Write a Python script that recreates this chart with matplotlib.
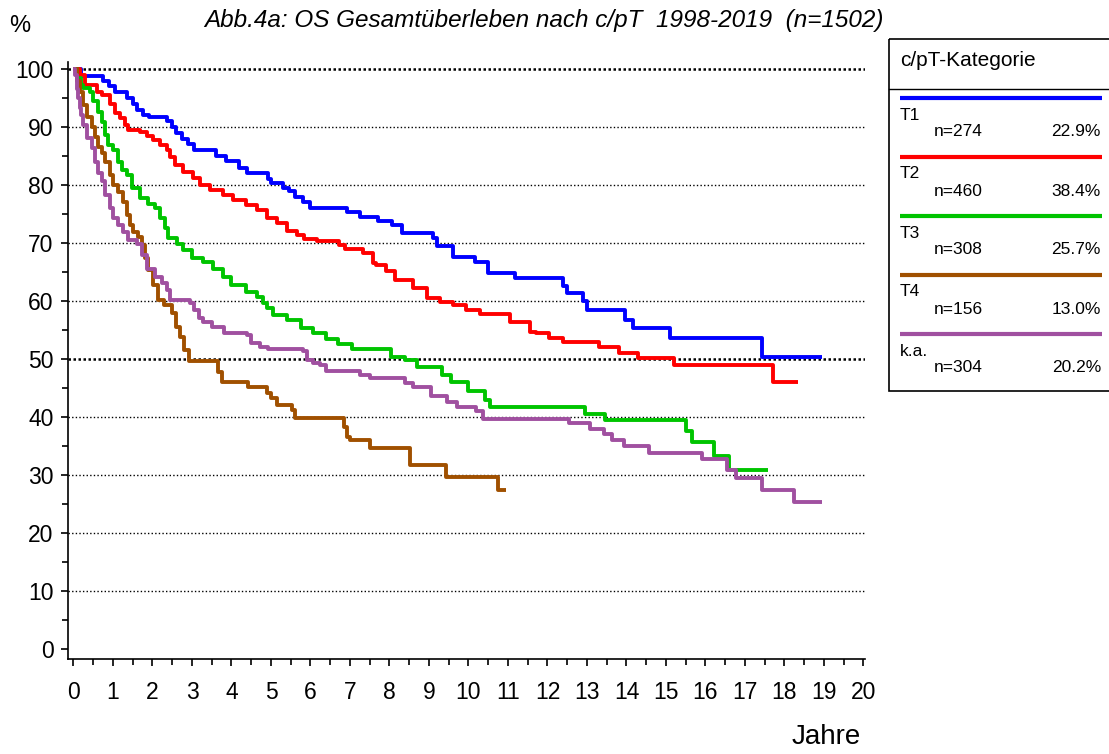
import matplotlib
matplotlib.use("Agg")
import matplotlib.pyplot as plt
from matplotlib.patches import Rectangle
from matplotlib.ticker import MultipleLocator

plt.rcParams['font.family'] = ['Liberation Sans', 'DejaVu Sans']

# ---------------- data ----------------
categories = ["T1", "T2", "T3", "T4", "k.a."]
n_values = [274, 460, 308, 156, 304]
pct_values = ["22.9%", "38.4%", "25.7%", "13.0%", "20.2%"]
colors = ["#0000FF", "#FF0000", "#00C400", "#A05000", "#A050A0"]

t1_time = [0, 0.19, 0.75, 0.9, 1.05, 1.35, 1.5, 1.6, 1.75, 1.9, 2.36, 2.5, 2.6, 2.75, 2.9, 3.05,
           3.62, 3.86, 4.2, 4.4, 4.93, 5.0, 5.3, 5.45, 5.6, 5.8, 5.99, 6.92, 7.25, 7.71, 8.06, 8.31,
           9.11, 9.2, 9.61, 10.16, 10.5, 11.18, 12.4, 12.5, 12.9, 13.0, 13.96, 14.17, 15.1, 17.42, 18.94]
t1_surv = [100, 98.8, 98.0, 97.0, 96.0, 95.0, 94.0, 93.0, 92.0, 91.7, 91.0, 90.0, 89.0, 88.0, 87.0, 86.0,
           85.0, 84.2, 83.0, 82.0, 81.0, 80.3, 79.5, 79.0, 78.0, 77.0, 76.0, 75.4, 74.5, 73.8, 73.1, 71.7,
           70.8, 69.5, 67.6, 66.8, 64.9, 63.9, 62.6, 61.4, 60.0, 58.4, 56.8, 55.3, 53.6, 50.4, 50.4]

t2_time = [0, 0.16, 0.29, 0.59, 0.71, 0.92, 1.05, 1.18, 1.30, 1.39, 1.68, 1.85, 2.02, 2.19, 2.36, 2.44,
           2.57, 2.78, 3.03, 3.2, 3.46, 3.79, 4.05, 4.38, 4.64, 4.89, 5.14, 5.4, 5.65, 5.83, 6.17, 6.72,
           6.87, 7.33, 7.59, 7.67, 7.92, 8.13, 8.6, 8.94, 9.28, 9.61, 9.95, 10.28, 11.04, 11.55, 11.72,
           12.05, 12.4, 13.3, 13.8, 14.3, 15.2, 17.7, 18.34]
t2_surv = [100, 99.0, 97.2, 96.1, 95.5, 94.0, 92.4, 91.5, 90.3, 89.5, 89.1, 88.5, 87.8, 86.9, 86.0, 84.9,
           83.4, 82.3, 81.2, 80.0, 79.1, 78.3, 77.4, 76.6, 75.7, 74.3, 73.5, 72.1, 71.4, 70.7, 70.3, 69.7,
           68.9, 68.3, 66.5, 66.2, 65.1, 63.7, 62.2, 60.5, 59.9, 59.3, 58.4, 57.8, 56.4, 54.7, 54.4,
           53.7, 53.0, 52.1, 51.1, 50.2, 49.0, 46.0, 46.0]

t3_time = [0, 0.1, 0.18, 0.25, 0.42, 0.5, 0.63, 0.71, 0.8, 0.88, 1.01, 1.13, 1.22, 1.35, 1.47, 1.68,
           1.89, 2.06, 2.19, 2.32, 2.4, 2.61, 2.78, 2.99, 3.29, 3.54, 3.79, 4.0, 4.38, 4.64, 4.81, 4.9,
           5.04, 5.4, 5.75, 6.07, 6.4, 6.7, 7.04, 8.05, 8.4, 8.69, 9.32, 9.56, 10.0, 10.43, 10.55,
           12.95, 13.45, 15.52, 15.67, 16.22, 16.6, 17.59]
t3_surv = [100, 98.5, 97.2, 96.7, 96.1, 94.4, 92.6, 90.9, 88.6, 86.9, 86.0, 84.0, 82.6, 81.7, 79.4, 77.7,
           76.8, 76.0, 74.3, 72.5, 70.8, 69.9, 68.8, 67.4, 66.8, 65.6, 64.2, 62.8, 61.5, 60.7, 59.7, 58.8,
           57.6, 56.7, 55.3, 54.5, 53.5, 52.6, 51.8, 50.3, 49.8, 48.7, 47.2, 46.0, 44.4, 42.9, 41.8,
           40.6, 39.4, 37.5, 35.7, 33.3, 30.9, 30.9]

t4_time = [0, 0.08, 0.16, 0.25, 0.33, 0.46, 0.54, 0.63, 0.71, 0.8, 0.92, 1.01, 1.13, 1.26, 1.35, 1.43,
           1.51, 1.64, 1.73, 1.81, 1.89, 2.02, 2.15, 2.3, 2.5, 2.6, 2.7, 2.8, 2.92, 3.66, 3.75, 4.43,
           4.9, 5.0, 5.16, 5.54, 5.62, 6.84, 6.92, 7.0, 7.5, 8.53, 9.42, 10.75, 10.96]
t4_surv = [100, 98.0, 96.1, 93.8, 91.8, 90.0, 88.3, 86.6, 85.5, 84.0, 81.7, 80.0, 78.8, 77.1, 74.8, 73.1,
           71.9, 71.1, 69.7, 67.4, 65.3, 62.8, 60.2, 59.3, 57.9, 55.5, 53.8, 51.6, 49.6, 47.8, 46.1, 45.1,
           44.1, 43.3, 42.1, 41.2, 39.9, 38.3, 36.6, 36.0, 34.6, 31.7, 29.6, 27.4, 27.4]

ka_time = [0, 0.04, 0.08, 0.12, 0.16, 0.2, 0.25, 0.33, 0.46, 0.54, 0.63, 0.71, 0.8, 0.92, 1.01, 1.13,
           1.26, 1.39, 1.6, 1.73, 1.85, 2.06, 2.23, 2.36, 2.44, 2.95, 3.05, 3.18, 3.29, 3.5, 3.8, 4.4,
           4.5, 4.72, 4.93, 5.82, 5.9, 6.07, 6.25, 6.4, 7.25, 7.5, 8.4, 8.6, 9.05, 9.45, 9.7, 10.2,
           10.37, 12.54, 13.09, 13.43, 13.64, 13.94, 14.57, 15.92, 16.55, 16.77, 17.44, 18.24, 18.96]
ka_surv = [100, 99.0, 96.6, 95.0, 93.3, 92.0, 90.3, 88.1, 86.4, 84.0, 82.0, 80.6, 78.3, 76.0, 74.3, 73.1,
           71.9, 70.5, 69.9, 67.9, 65.6, 64.2, 63.1, 61.9, 60.2, 59.7, 58.5, 57.1, 56.4, 55.5, 54.5, 54.1,
           52.8, 52.1, 51.7, 51.3, 49.8, 49.3, 49.0, 48.0, 47.2, 46.7, 45.9, 45.1, 43.6, 42.6, 41.8, 41.0,
           39.7, 38.9, 37.9, 37.1, 36.0, 35.0, 33.8, 32.7, 30.9, 29.4, 27.4, 25.3, 25.3]

series_time = [t1_time, t2_time, t3_time, t4_time, ka_time]
series_surv = [t1_surv, t2_surv, t3_surv, t4_surv, ka_surv]

title = "Abb.4a: OS Gesamtüberleben nach c/pT  1998-2019  (n=1502)"
x_ticks = list(range(0, 21))
y_ticks = list(range(0, 101, 10))

# ---------------- figure ----------------
W, H = 1109, 754
fig = plt.figure(figsize=(W / 100, H / 100), dpi=100)
ax = fig.add_axes([68 / W, 1 - 659 / H, (865 - 68) / W, (659 - 62) / H])
ax.set_xlim(-0.139, 20.04)
ax.set_ylim(-1.72, 101.2)

for y in y_ticks[1:]:
    if y in (50, 100):
        ax.axhline(y, color='black', lw=1.8, ls=(0, (1.0, 1.0)), zorder=1)
    else:
        ax.axhline(y, color='black', lw=1.0, ls=(0, (1.0, 1.6)), zorder=1)

for tt, ss, c in zip(series_time, series_surv, colors):
    ax.step(tt, ss, where='post', color=c, lw=2.8, zorder=3, solid_capstyle='butt')

for s in ['top', 'right']:
    ax.spines[s].set_visible(False)
for s in ['left', 'bottom']:
    ax.spines[s].set_linewidth(1.2)

ax.set_xticks(x_ticks)
ax.set_yticks(y_ticks)
ax.xaxis.set_minor_locator(MultipleLocator(0.5))
ax.yaxis.set_minor_locator(MultipleLocator(5))
ax.tick_params(axis='both', which='major', length=5, width=1.2, labelsize=16.5)
ax.tick_params(axis='both', which='minor', length=4, width=1.2)
ax.tick_params(axis='x', which='major', pad=11)
ax.tick_params(axis='y', which='major', pad=5.5)

# overlay in pixel coords for text and legend box
ov = fig.add_axes([0, 0, 1, 1], zorder=5)
ov.set_xlim(0, W)
ov.set_ylim(H, 0)
ov.axis('off')

ov.text(544, 20, title, ha='center', va='center', fontsize=17.5, style='italic')
ov.text(20, 26, "%", ha='center', va='center', fontsize=17)
ov.text(826, 737, "Jahre", ha='center', va='center', fontsize=20)

ov.add_patch(Rectangle((889, 39), 240, 352, fill=False, edgecolor='black', lw=1.2))
ov.plot([889, 1120], [89, 89], color='black', lw=1.0)
ov.text(900, 61, "c/pT-Kategorie", ha='left', va='center', fontsize=15)
for i, (cat, n, p, c) in enumerate(zip(categories, n_values, pct_values, colors)):
    y0 = 98 + 59 * i
    ov.plot([900, 1102], [y0, y0], color=c, lw=3.0, solid_capstyle='butt')
    ov.text(900, y0 + 17, cat, ha='left', va='center', fontsize=12.5)
    ov.text(934, y0 + 34, f"n={n}", ha='left', va='center', fontsize=12.5)
    ov.text(1101, y0 + 34, p, ha='right', va='center', fontsize=12.5)

fig.savefig("out.png", dpi=100)
